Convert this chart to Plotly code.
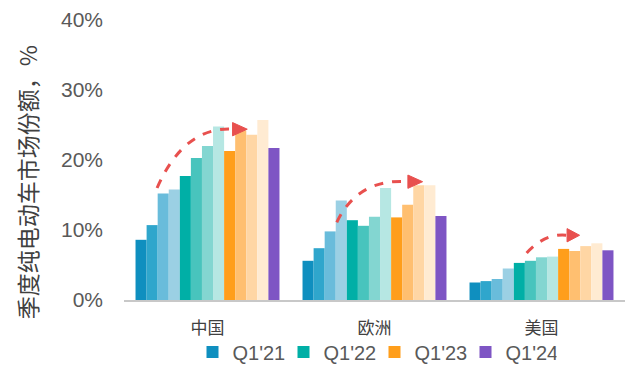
import plotly.graph_objects as go

regions = ["中国", "欧洲", "美国"]
quarters = ["Q1'21", "Q2'21", "Q3'21", "Q4'21",
            "Q1'22", "Q2'22", "Q3'22", "Q4'22",
            "Q1'23", "Q2'23", "Q3'23", "Q4'23",
            "Q1'24"]
china = [8.6, 10.7, 15.2, 15.8, 17.7, 20.3, 22.0, 24.8, 21.3, 24.2, 23.6, 25.7, 21.7]
europe = [5.6, 7.4, 9.8, 14.2, 11.4, 10.6, 11.9, 16.0, 11.8, 13.6, 16.4, 16.4, 12.0]
usa = [2.5, 2.7, 3.0, 4.5, 5.3, 5.6, 6.1, 6.2, 7.3, 7.0, 7.7, 8.1, 7.1]
legend_quarters = ["Q1'21", "Q1'22", "Q1'23", "Q1'24"]
y_ticks = [0, 10, 20, 30, 40]

colors = ["#0F8FBF", "#2FA6CC", "#69BCDB", "#9BD0E4",
          "#00AFA6", "#48C4BD", "#83D6D1", "#B6E7E3",
          "#FF9E1B", "#FFBF70", "#FFD6A4", "#FFEBD2",
          "#7E55C4"]

fig = go.Figure()
for i, q in enumerate(quarters):
    fig.add_trace(go.Bar(
        x=regions, y=[china[i], europe[i], usa[i]], name=q,
        marker=dict(color=colors[i], line=dict(width=0)),
        showlegend=q in legend_quarters,
    ))

RED = "#E8504E"
# decorative curved dashed arrows (x in category-index units, y in %)
arrows = [
    dict(p0=(-0.302, 16.0), c=(-0.14, 24.8), p1=(0.15, 24.4), tip=0.238, h=0.95),
    dict(p0=(0.774, 11.1), c=(0.90, 17.4), p1=(1.20, 16.9), tip=1.288, h=0.95),
    dict(p0=(1.911, 6.7), c=(2.02, 9.6), p1=(2.153, 9.25), tip=2.228, h=0.95),
]
shapes = []
for a in arrows:
    (x0, y0), (cx, cy), (x1, y1) = a["p0"], a["c"], a["p1"]
    shapes.append(dict(type="path", xref="x", yref="y",
                       path=f"M {x0},{y0} Q {cx},{cy} {x1},{y1}",
                       line=dict(color=RED, width=3, dash="dash")))
    shapes.append(dict(type="path", xref="x", yref="y",
                       path=f"M {x1},{y1 + a['h']} L {a['tip']},{y1} L {x1},{y1 - a['h']} Z",
                       fillcolor=RED, line=dict(color=RED, width=1)))

fig.update_layout(
    width=630, height=370,
    margin=dict(l=124, r=5, t=20, b=70, autoexpand=False),
    paper_bgcolor="white", plot_bgcolor="white",
    barmode="group", bargap=0.138, bargroupgap=0,
    font=dict(family="Liberation Sans, Arial, sans-serif", color="#595959"),
    xaxis=dict(showline=True, linecolor="#C8C8C8", linewidth=2,
               tickfont=dict(family="Noto Sans CJK SC", size=17, color="#404040"),
               ticks="", showgrid=False, ticklabelstandoff=12),
    yaxis=dict(range=[0, 40], tickvals=y_ticks, ticktext=[f"{v}%" for v in y_ticks],
               showgrid=False, zeroline=False, showline=False,
               tickfont=dict(size=21, color="#595959"), ticklabelstandoff=20),
    legend=dict(orientation="h", x=0.5, xanchor="center", y=-0.186, yanchor="middle",
                font=dict(size=20, color="#595959"), itemwidth=30,
                entrywidth=46, traceorder="normal", bgcolor="rgba(0,0,0,0)"),
    shapes=shapes,
    annotations=[dict(text="季度纯电动车市场份额，%", textangle=-90,
                      xref="paper", yref="paper", x=-0.192, y=0.42,
                      xanchor="center", yanchor="middle", showarrow=False,
                      font=dict(family="Noto Sans CJK SC", size=23, color="#404040"))],
)

fig.write_html("out.html")
